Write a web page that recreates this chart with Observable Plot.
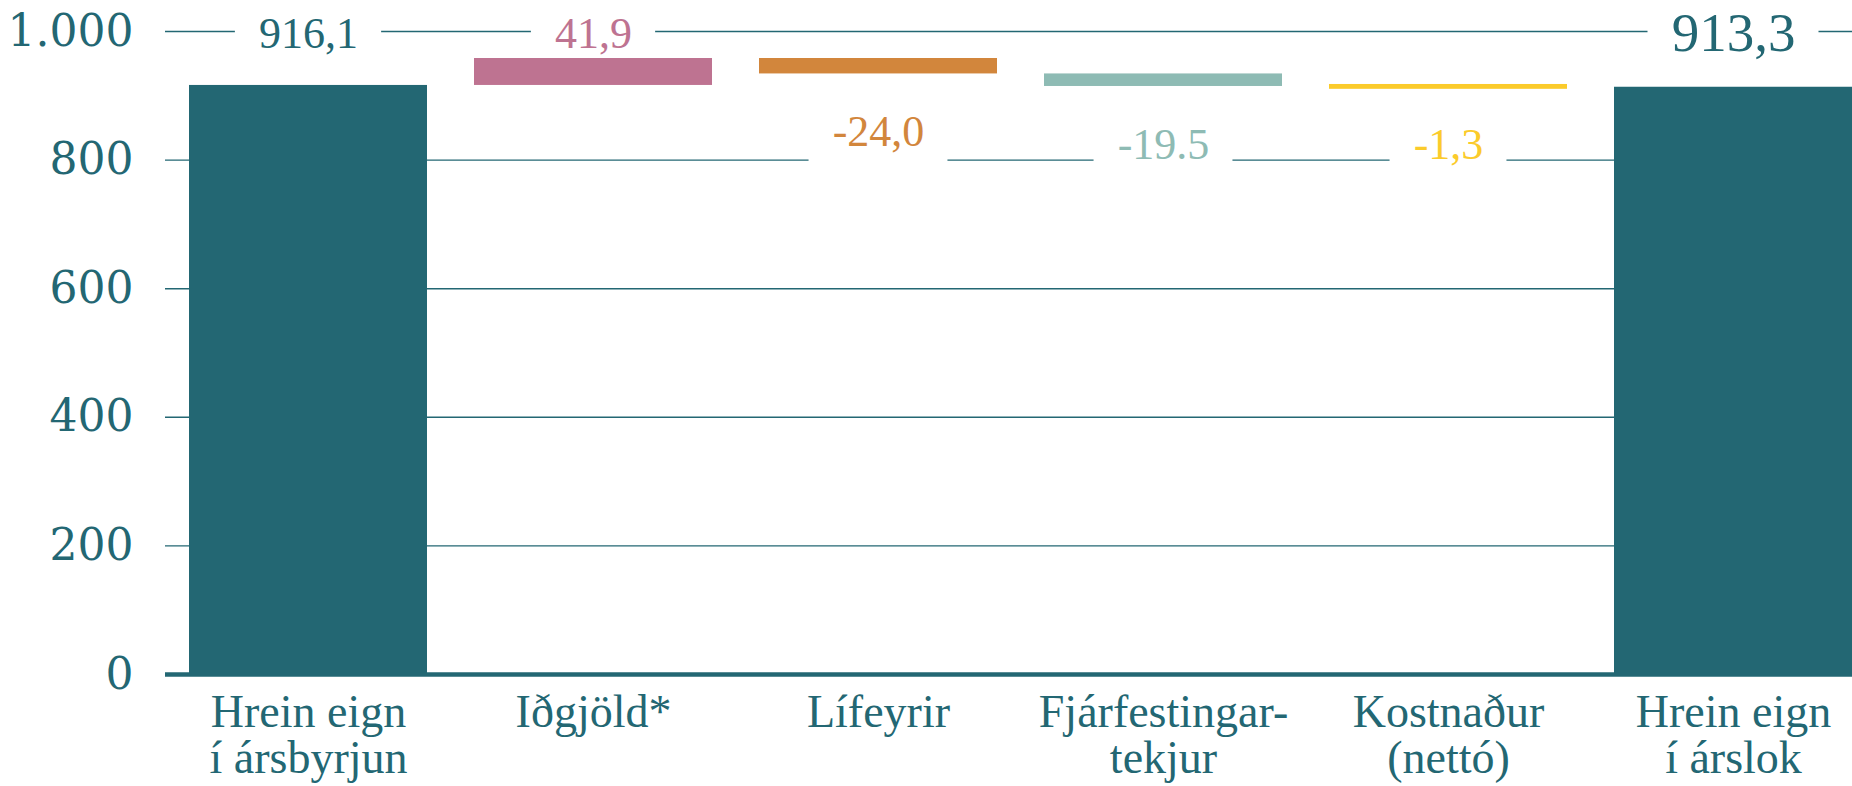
<!DOCTYPE html>
<html>
<head>
<meta charset="utf-8">
<script src="https://cdn.jsdelivr.net/npm/d3@7"></script>
<script src="https://cdn.jsdelivr.net/npm/@observablehq/plot@0.6"></script>
<style>
  html, body { margin: 0; padding: 0; background: #fff; overflow: hidden; }
  #chart svg { display: block; }
</style>
</head>
<body>
<div id="chart"></div>
<script>
// ---- data ----
const categories = ["Hrein eign\ní ársbyrjun", "Iðgjöld*", "Lífeyrir", "Fjárfestingar-\ntekjur", "Kostnaður\n(nettó)", "Hrein eign\ní árslok"];
const values = [916.1, 41.9, -24.0, -19.5, -1.3, 913.3];
const valueLabels = ["916,1", "41,9", "-24,0", "-19.5", "-1,3", "913,3"];
const kinds = ["total", "change", "change", "change", "change", "total"];
const yTicks = [0, 200, 400, 600, 800, 1000];
const colors = ["#236773", "#be7391", "#d2863c", "#8ebbb4", "#fbcb2b", "#236773"];

// ---- styling ----
const teal = "#236773";
const serif = "'Liberation Serif', 'Times New Roman', serif";
const axisFont = "'DejaVu Serif', serif";
const W = 1852, H = 786;
const xRange = [165, W];
const padInner = 0.164, padOuter = 0.0355;

// waterfall table
let run = 0;
const rows = categories.map((c, i) => {
  let y1, y2;
  if (kinds[i] === "total") { y1 = 0; y2 = values[i]; run = values[i]; }
  else { y1 = run; y2 = run + values[i]; run = y2; }
  return {cat: c, value: values[i], label: valueLabels[i], kind: kinds[i], color: colors[i], y1, y2,
          lo: Math.min(y1, y2), hi: Math.max(y1, y2)};
});

const step = yTicks[1] - yTicks[0];
const bw = d3.scaleBand().domain(categories).range(xRange).paddingInner(padInner).paddingOuter(padOuter).align(1).bandwidth();
const ctx = document.createElement("canvas").getContext("2d");
function textWidth(s, size) { ctx.font = `${size}px ${serif}`; return ctx.measureText(s).width; }

const fmt = d3.formatLocale({decimal: ",", thousands: ".", grouping: [3], currency: ["", ""]}).format(",d");

const gapMarks = [];
const labelMarks = [];
rows.forEach((d, i) => {
  const top = d.kind === "total" || d.value >= 0;
  const size = i === rows.length - 1 ? 55 : 44;
  const line = top ? yTicks[yTicks.length - 1] : Math.floor(d.lo / step) * step;
  const gw = textWidth(d.label, size) + 2 * 24;
  const inset = Math.max(0, (bw - gw) / 2);
  gapMarks.push(Plot.barY([d], {x: "cat", y1: () => line - 6, y2: () => line + 6, fill: "white",
    insetLeft: inset, insetRight: inset}));
  labelMarks.push(Plot.text([d], {x: "cat", y: top ? () => line : "lo", text: "label",
    fill: d.color, fontSize: size, fontFamily: serif, lineAnchor: "middle", dy: top ? 2 : 58}));
});

const plot = Plot.plot({
  width: W,
  height: H,
  marginLeft: 165,
  marginRight: 0,
  marginTop: 31,
  marginBottom: 112,
  style: {fontFamily: serif, color: teal, background: "white"},
  x: {domain: categories, range: xRange, paddingInner: padInner, paddingOuter: padOuter, align: 1, axis: null},
  y: {domain: [0, 1000]},
  color: {domain: categories, range: colors},
  marks: [
    Plot.ruleY(yTicks.filter(v => v > 0), {stroke: teal, strokeWidth: 1.4}),
    ...gapMarks,
    Plot.barY(rows.filter(d => Math.abs(d.hi - d.lo) >= 5), {x: "cat", y1: "y1", y2: "y2", fill: "cat"}),
    Plot.barY(rows.filter(d => Math.abs(d.hi - d.lo) < 5), {x: "cat", y1: "y1", y2: "y2", fill: "cat", insetTop: -2, insetBottom: -2}),
    Plot.ruleY([0], {stroke: teal, strokeWidth: 4.5}),
    Plot.axisY({ticks: yTicks, tickSize: 0, tickPadding: 32, tickFormat: fmt, fontSize: 44, fontFamily: axisFont, label: null, fill: teal}),
    ...labelMarks,
    Plot.text(rows, {x: "cat", frameAnchor: "bottom", text: "cat", lineAnchor: "top", dy: 20,
      fontSize: 46, lineHeight: 1.0, fill: teal, fontFamily: serif})
  ]
});
document.getElementById("chart").appendChild(plot);
</script>
</body>
</html>
